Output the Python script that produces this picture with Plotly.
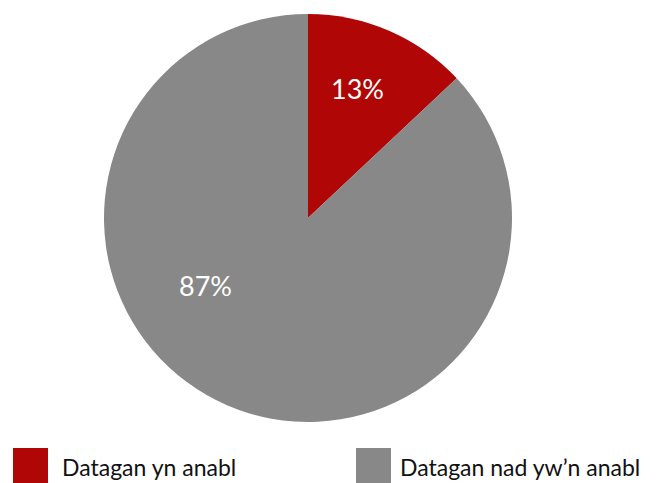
import math
import plotly.graph_objects as go

labels = ["Datagan yn anabl", "Datagan nad yw\u2019n anabl"]
values = [13, 87]
colors = ["#B10606", "#888888"]
# label placement (angle clockwise from 12 o'clock in degrees, fraction of radius)
label_angle = [21.2, 236.1]
label_rfrac = [0.677, 0.606]

W, H = 660, 483
cx, cy, r = 308, 218, 204

fig = go.Figure()
fig.add_trace(go.Pie(
    labels=labels, values=values, sort=False, direction="clockwise", rotation=0,
    marker=dict(colors=colors, line=dict(width=0)),
    textinfo="none",
    showlegend=False, hoverinfo="label+percent",
    domain=dict(x=[(cx - r) / W, (cx + r) / W], y=[(H - cy - r) / H, (H - cy + r) / H]),
))

total = sum(values)
for v, ang, rf in zip(values, label_angle, label_rfrac):
    a = math.radians(ang)
    px = cx + rf * r * math.sin(a)
    py = cy - rf * r * math.cos(a)
    fig.add_annotation(xref="paper", yref="paper", x=px / W, y=(H - py + 1) / H,
                       xanchor="center", yanchor="middle",
                       text=f"{round(100 * v / total)}%", showarrow=False,
                       font=dict(family="Lato", size=27, color="white"))

# manual legend
leg_sq_x = [13, 356]
leg_tx_x = [60, 398]
for i, (lab, col) in enumerate(zip(labels, colors)):
    x0 = leg_sq_x[i]
    fig.add_shape(type="rect", xref="paper", yref="paper",
                  x0=x0 / W, x1=(x0 + 35) / W, y0=(H - 485) / H, y1=(H - 448) / H,
                  fillcolor=col, line=dict(width=0))
    fig.add_annotation(xref="paper", yref="paper", x=leg_tx_x[i] / W, y=(H - 467) / H,
                       xanchor="left", yanchor="middle", text=lab, showarrow=False,
                       font=dict(family="Lato", size=23, color="#111111"))

fig.update_layout(width=W, height=H, margin=dict(l=0, r=0, t=0, b=0),
                  paper_bgcolor="white", plot_bgcolor="white",
                  font=dict(family="Lato"))
fig.write_html("out.html", config={"displayModeBar": False},
               post_script="document.body.style.margin='0';document.body.style.overflow='hidden';")
